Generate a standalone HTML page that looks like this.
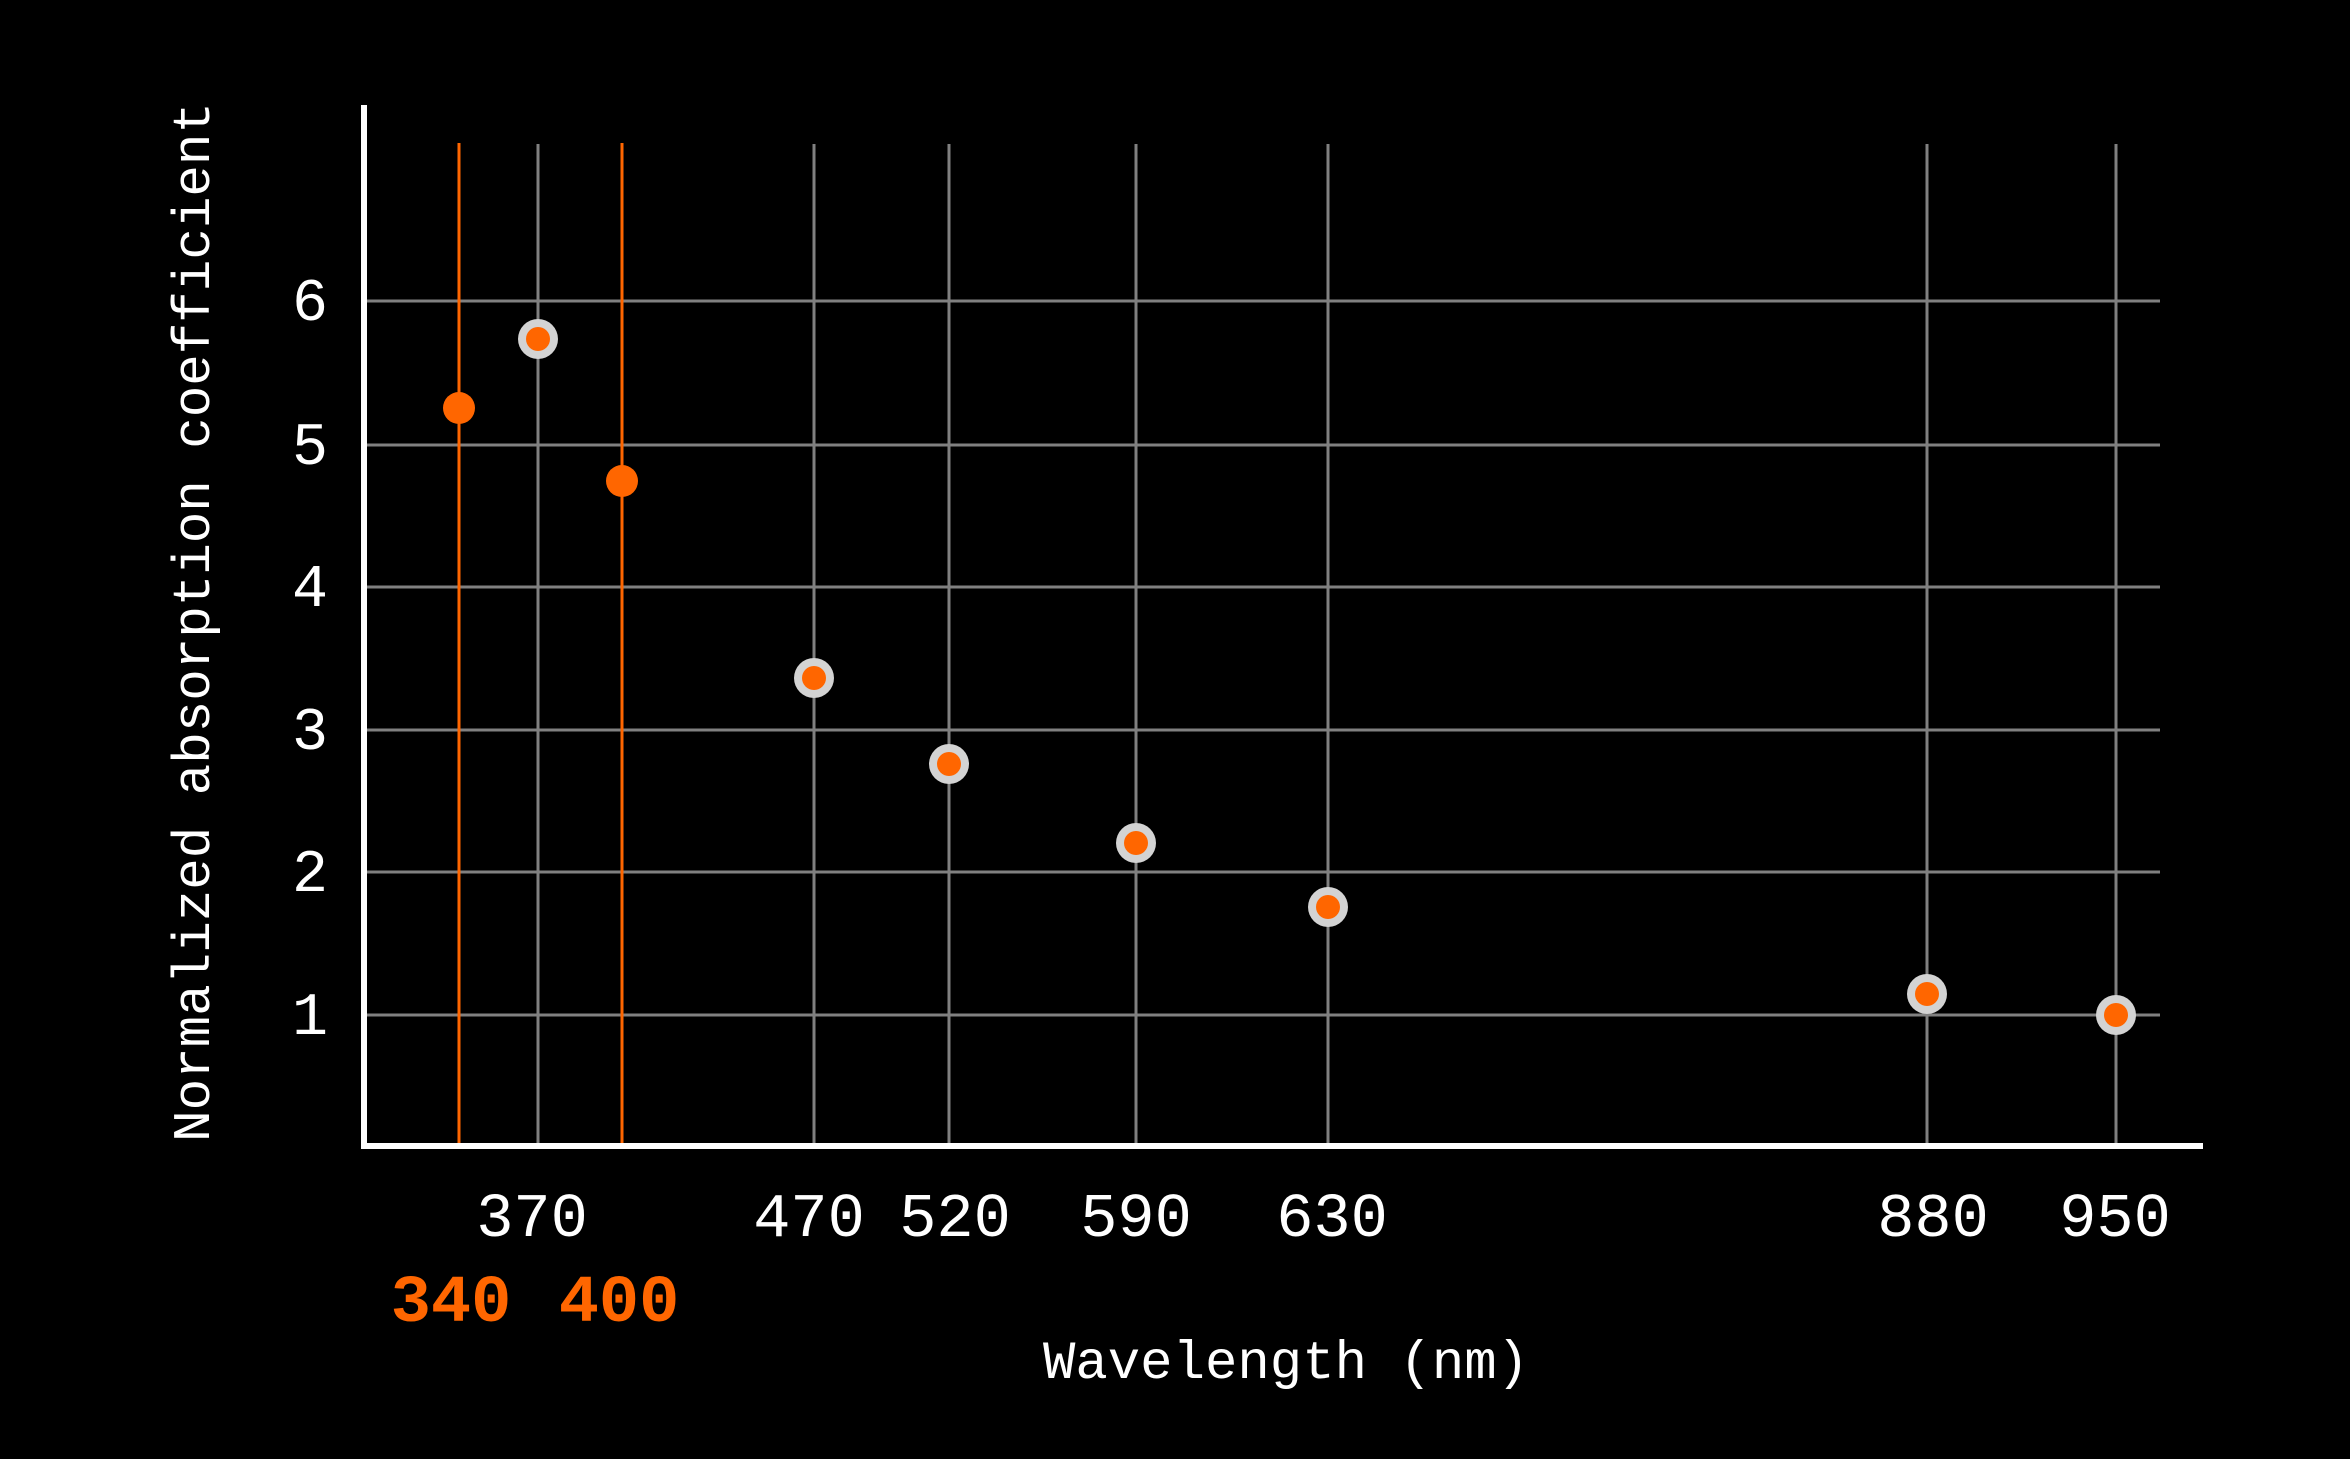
<!DOCTYPE html>
<html><head><style>html,body{margin:0;padding:0;background:#000;}svg{display:block}</style></head><body>
<svg width="2350" height="1459" viewBox="0 0 2350 1459" xmlns="http://www.w3.org/2000/svg" font-family="Liberation Mono, monospace">
<rect width="2350" height="1459" fill="#000"/>
<g stroke="#808080" stroke-width="3">
<line x1="367" y1="301" x2="2160" y2="301"/>
<line x1="367" y1="445" x2="2160" y2="445"/>
<line x1="367" y1="587" x2="2160" y2="587"/>
<line x1="367" y1="730" x2="2160" y2="730"/>
<line x1="367" y1="872" x2="2160" y2="872"/>
<line x1="367" y1="1015" x2="2160" y2="1015"/>
<line x1="538" y1="144" x2="538" y2="1146"/>
<line x1="814" y1="144" x2="814" y2="1146"/>
<line x1="949" y1="144" x2="949" y2="1146"/>
<line x1="1136" y1="144" x2="1136" y2="1146"/>
<line x1="1328" y1="144" x2="1328" y2="1146"/>
<line x1="1927" y1="144" x2="1927" y2="1146"/>
<line x1="2116" y1="144" x2="2116" y2="1146"/>
</g>
<g stroke="#ff6600" stroke-width="3">
<line x1="459" y1="143" x2="459" y2="1146"/>
<line x1="622" y1="143" x2="622" y2="1146"/>
</g>
<g stroke="#fff" stroke-width="6" fill="none">
<polyline points="364,105 364,1146 2203,1146"/>
</g>
<g fill="#d3d3d3">
<circle cx="538" cy="339" r="20"/>
<circle cx="814" cy="678" r="20"/>
<circle cx="949" cy="764" r="20"/>
<circle cx="1136" cy="843" r="20"/>
<circle cx="1328" cy="907" r="20"/>
<circle cx="1927" cy="994" r="20"/>
<circle cx="2116" cy="1015" r="20"/>
</g>
<g fill="#ff6600">
<circle cx="538" cy="339" r="12"/>
<circle cx="814" cy="678" r="12"/>
<circle cx="949" cy="764" r="12"/>
<circle cx="1136" cy="843" r="12"/>
<circle cx="1328" cy="907" r="12"/>
<circle cx="1927" cy="994" r="12"/>
<circle cx="2116" cy="1015" r="12"/>
<circle cx="459" cy="408" r="16"/>
<circle cx="622" cy="481" r="16"/>
</g>
<g fill="#fff" font-size="60" text-anchor="middle">
<text x="310" y="320">6</text>
<text x="310" y="464">5</text>
<text x="310" y="606">4</text>
<text x="310" y="749">3</text>
<text x="310" y="891">2</text>
<text x="310" y="1034">1</text>
</g>
<g fill="#fff" font-size="62" text-anchor="middle">
<text x="532" y="1236">370</text>
<text x="809" y="1236">470</text>
<text x="955" y="1236">520</text>
<text x="1136" y="1236">590</text>
<text x="1332" y="1236">630</text>
<text x="1933" y="1236">880</text>
<text x="2115" y="1236">950</text>
</g>
<g fill="#ff6600" font-size="67" font-weight="bold" text-anchor="middle">
<text x="451" y="1321">340</text>
<text x="619" y="1321">400</text>
</g>
<text x="1286" y="1378" fill="#fff" font-size="54" text-anchor="middle">Wavelength (nm)</text>
<text x="0" y="0" fill="#fff" font-size="52.5" text-anchor="middle" transform="translate(209,622) rotate(-90)">Normalized absorption coefficient</text>
</svg>
</body></html>
